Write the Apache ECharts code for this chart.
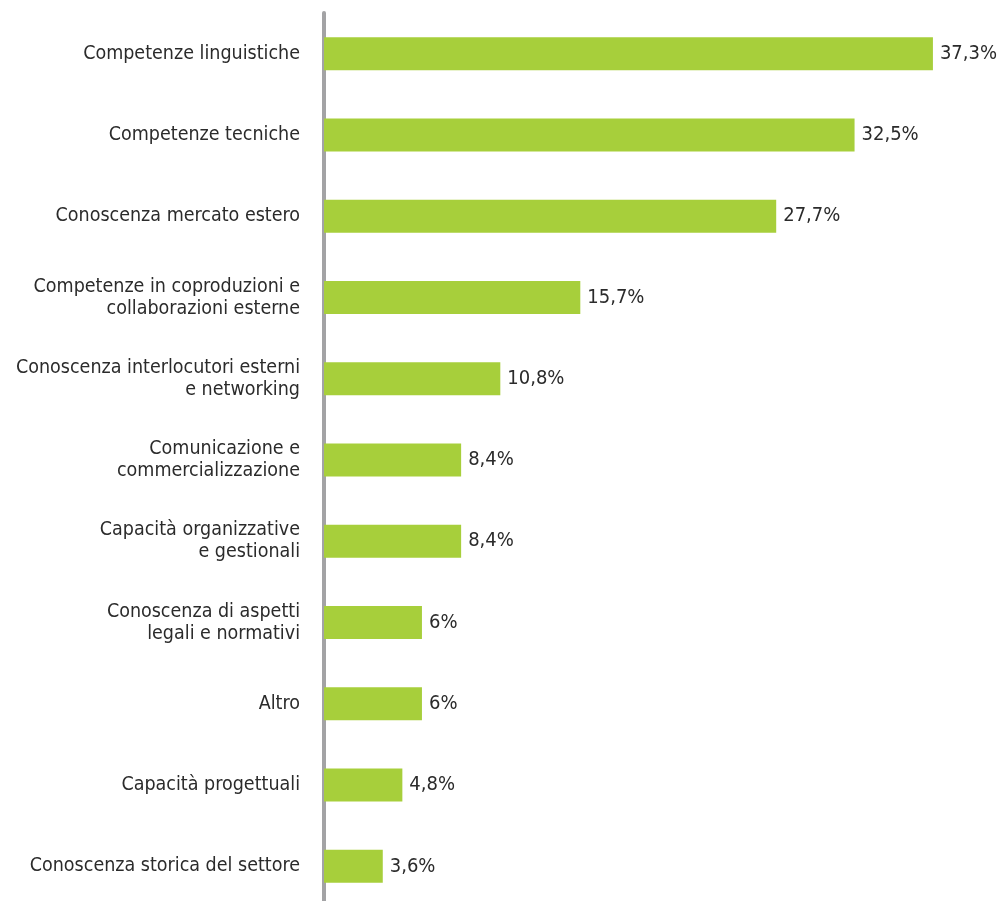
<!DOCTYPE html>
<html>
<head>
<meta charset="utf-8">
<script src="https://cdn.jsdelivr.net/npm/echarts@6/dist/echarts.min.js"></script>
<style>
  html, body { margin: 0; padding: 0; background: #fff; }
  #chart { width: 1004px; height: 901px; }
</style>
</head>
<body>
<div id="chart"></div>
<script>
// Competenze richieste (percentuali)
const categories = [
  'Competenze linguistiche',
  'Competenze tecniche',
  'Conoscenza mercato estero',
  'Competenze in coproduzioni e\ncollaborazioni esterne',
  'Conoscenza interlocutori esterni\ne networking',
  'Comunicazione e\ncommercializzazione',
  'Capacità organizzative\ne gestionali',
  'Conoscenza di aspetti\nlegali e normativi',
  'Altro',
  'Capacità progettuali',
  'Conoscenza storica del settore'
];
const values = [37.3, 32.5, 27.7, 15.7, 10.8, 8.4, 8.4, 6, 6, 4.8, 3.6];

const FONT = '"DejaVu Sans Condensed", "Liberation Sans Narrow", sans-serif';

const chart = echarts.init(document.getElementById('chart'));
chart.setOption({
  animation: false,
  grid: {
    left: 324, right: 27, top: 13, bottom: -6,
    containLabel: false,
    outerBoundsMode: 'none'
  },
  xAxis: {
    type: 'value',
    min: 0,
    max: 40,
    show: false
  },
  yAxis: {
    type: 'category',
    data: categories,
    inverse: true,
    axisLine: { show: true, lineStyle: { color: '#a3a3a5', width: 4 } },
    axisTick: { show: false },
    axisLabel: {
      margin: 24,
      color: '#2b2b2b',
      fontFamily: FONT,
      fontSize: 19.5,
      lineHeight: 22,
      align: 'right'
    }
  },
  series: [{
    type: 'bar',
    data: values,
    barWidth: 33,
    itemStyle: { color: '#a7cf3b' },
    label: {
      show: true,
      position: 'right',
      distance: 7,
      color: '#2b2b2b',
      fontFamily: FONT,
      fontSize: 20,
      formatter: p => String(p.value).replace('.', ',') + '%'
    }
  }]
});
</script>
</body>
</html>
